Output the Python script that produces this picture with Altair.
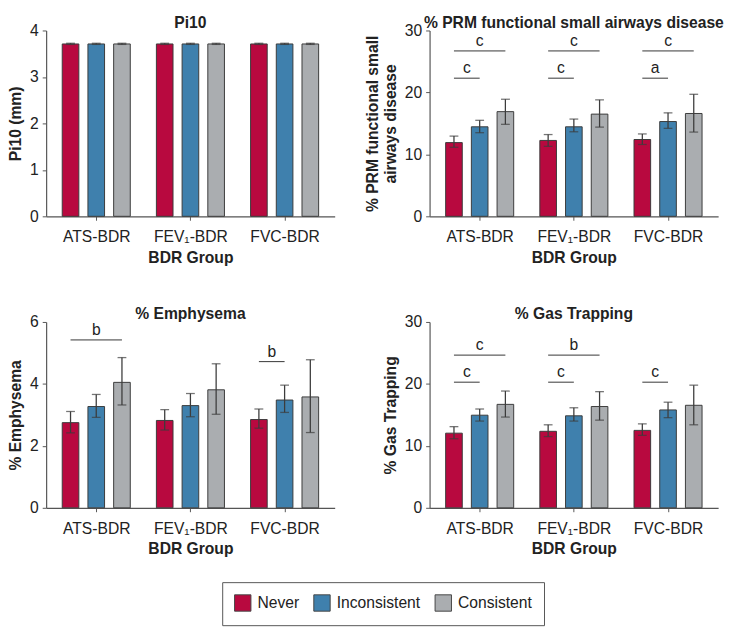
import json
import altair as alt
import pandas as pd

groups = ["ATS-BDR", "FEV₁-BDR", "FVC-BDR"]
series = ["Never", "Inconsistent", "Consistent"]
colors = ["#B8093F", "#3F80AD", "#AAADB0"]

# Pi10 (mm)
pi10_mean = {"Never": [3.71, 3.71, 3.71], "Inconsistent": [3.71, 3.71, 3.71], "Consistent": [3.71, 3.71, 3.71]}
pi10_lo = {"Never": [3.70, 3.70, 3.70], "Inconsistent": [3.70, 3.70, 3.70], "Consistent": [3.70, 3.70, 3.70]}
pi10_hi = {"Never": [3.725, 3.725, 3.725], "Inconsistent": [3.725, 3.725, 3.725], "Consistent": [3.725, 3.725, 3.725]}

# % PRM functional small airways disease
prm_mean = {"Never": [11.9, 12.25, 12.4], "Inconsistent": [14.45, 14.45, 15.3], "Consistent": [16.9, 16.5, 16.6]}
prm_lo = {"Never": [11.15, 11.3, 11.6], "Inconsistent": [13.5, 13.65, 14.2], "Consistent": [14.85, 14.4, 13.6]}
prm_hi = {"Never": [12.95, 13.2, 13.3], "Inconsistent": [15.5, 15.7, 16.7], "Consistent": [18.9, 18.8, 19.7]}

# % Emphysema
emph_mean = {"Never": [2.75, 2.82, 2.85], "Inconsistent": [3.27, 3.30, 3.48], "Consistent": [4.05, 3.81, 3.58]}
emph_lo = {"Never": [2.42, 2.51, 2.57], "Inconsistent": [2.92, 2.94, 3.08], "Consistent": [3.32, 3.02, 2.43]}
emph_hi = {"Never": [3.11, 3.17, 3.19], "Inconsistent": [3.66, 3.69, 3.96], "Consistent": [4.85, 4.65, 4.78]}

# % Gas Trapping
gt_mean = {"Never": [12.05, 12.35, 12.5], "Inconsistent": [14.95, 14.85, 15.8], "Consistent": [16.7, 16.35, 16.55]}
gt_lo = {"Never": [11.15, 11.5, 11.7], "Inconsistent": [14.0, 14.0, 14.55], "Consistent": [14.65, 14.15, 13.4]}
gt_hi = {"Never": [13.1, 13.4, 13.55], "Inconsistent": [15.95, 16.15, 17.05], "Consistent": [18.85, 18.75, 19.8]}

# significance brackets: (group index, from series, to series, y, label)
prm_brackets = [(0, "Never", "Consistent", 26.7, "c"), (0, "Never", "Inconsistent", 22.3, "c"),
                (1, "Never", "Consistent", 26.7, "c"), (1, "Never", "Inconsistent", 22.3, "c"),
                (2, "Never", "Consistent", 26.7, "c"), (2, "Never", "Inconsistent", 22.3, "a")]
emph_brackets = [(0, "Never", "Consistent", 5.42, "b"), (2, "Never", "Inconsistent", 4.72, "b")]
gt_brackets = [(0, "Never", "Consistent", 24.65, "c"), (0, "Never", "Inconsistent", 20.28, "c"),
               (1, "Never", "Consistent", 24.65, "b"), (1, "Never", "Inconsistent", 20.28, "c"),
               (2, "Never", "Inconsistent", 20.28, "c")]

STEP = 0.273  # bar spacing within a group, in group units


def pos(gi, s):
    return gi + (series.index(s) - 1) * STEP


def make_table(mean, lo, hi):
    rows = []
    for s in series:
        for gi, g in enumerate(groups):
            rows.append({"group": g, "series": s, "mean": mean[s][gi], "lo": lo[s][gi],
                         "hi": hi[s][gi], "pos": pos(gi, s)})
    return pd.DataFrame(rows)


def make_brackets(br):
    rows = []
    for gi, a, b, yv, lab in br:
        x1, x2 = pos(gi, a), pos(gi, b)
        rows.append({"x1": x1, "x2": x2, "xm": (x1 + x2) / 2, "y": yv, "label": lab})
    return pd.DataFrame(rows)


label_expr = json.dumps(groups, ensure_ascii=False) + "[round(datum.value)]"
FONT = "Liberation Sans"


def panel(title, ytitle, ymax, ystep, mean, lo, hi, br):
    df = make_table(mean, lo, hi)
    xenc = alt.X("pos:Q", scale=alt.Scale(domain=[-0.48, 2.48], nice=False, zero=False),
                 axis=alt.Axis(values=[0, 1, 2], labelExpr=label_expr, title="BDR Group",
                               grid=False, labelPadding=9, titlePadding=5))
    yscale = alt.Scale(domain=[0, ymax], nice=False)
    yvals = list(range(0, int(ymax) + 1, ystep))
    bars = alt.Chart(df).mark_bar(size=17, stroke="#3a3a3a", strokeWidth=1).encode(
        x=xenc,
        y=alt.Y("mean:Q", scale=yscale,
                axis=alt.Axis(values=yvals, title=ytitle, grid=False)),
        color=alt.Color("series:N", scale=alt.Scale(domain=series, range=colors),
                        legend=alt.Legend(title=None, orient="none", direction="horizontal",
                                          legendX=180, legendY=564,
                                          symbolType="square", symbolSize=280,
                                          symbolStrokeColor="#444", symbolStrokeWidth=1,
                                          symbolOpacity=1, labelFontSize=16, labelFont=FONT,
                                          labelColor="#222", strokeColor="#555", padding=12,
                                          columnPadding=12, labelOffset=6)),
    )
    err = alt.Chart(df).mark_rule(color="#3c3c3c", strokeWidth=1.3).encode(
        x="pos:Q", y="lo:Q", y2="hi:Q")
    caps = alt.Chart(df).transform_fold(["lo", "hi"], as_=["k", "v"]).mark_tick(
        color="#3c3c3c", size=9, thickness=1.3, orient="horizontal").encode(
        x="pos:Q", y="v:Q")
    layers = [bars, err, caps]
    if br:
        bdf = make_brackets(br)
        rules = alt.Chart(bdf).mark_rule(color="#333", strokeWidth=1).encode(
            x="x1:Q", x2="x2:Q", y="y:Q")
        txt = alt.Chart(bdf).mark_text(fontSize=16, font=FONT, color="#222", dy=-5,
                                       baseline="alphabetic").encode(
            x="xm:Q", y="y:Q", text="label:N")
        layers += [rules, txt]
    return alt.layer(*layers).properties(
        width=295, height=190,
        title=alt.TitleParams(title, fontSize=16, fontWeight="bold", font=FONT,
                              color="#222", offset=-8))


p1 = panel("Pi10", "Pi10 (mm)", 4, 1, pi10_mean, pi10_lo, pi10_hi, [])
p2 = panel("% PRM functional small airways disease",
           ["% PRM functional small", "airways disease"], 30, 10,
           prm_mean, prm_lo, prm_hi, prm_brackets)
p3 = panel("% Emphysema", "% Emphysema", 6, 2, emph_mean, emph_lo, emph_hi, emph_brackets)
p4 = panel("% Gas Trapping", "% Gas Trapping", 30, 10, gt_mean, gt_lo, gt_hi, gt_brackets)

chart = alt.concat(p1, p2, p3, p4, columns=2, spacing={"row": 42, "column": 31},
                   padding=0).configure_view(stroke=None).configure_axis(
    domainColor="#555", tickColor="#555", labelColor="#222", titleColor="#222",
    labelFont=FONT, titleFont=FONT, labelFontSize=16, titleFontSize=16,
    titleFontWeight="bold", tickSize=4, labelPadding=4, titlePadding=6, domainWidth=1.2,
)

chart.save("out.html", embed_options={"renderer": "svg", "actions": False})
